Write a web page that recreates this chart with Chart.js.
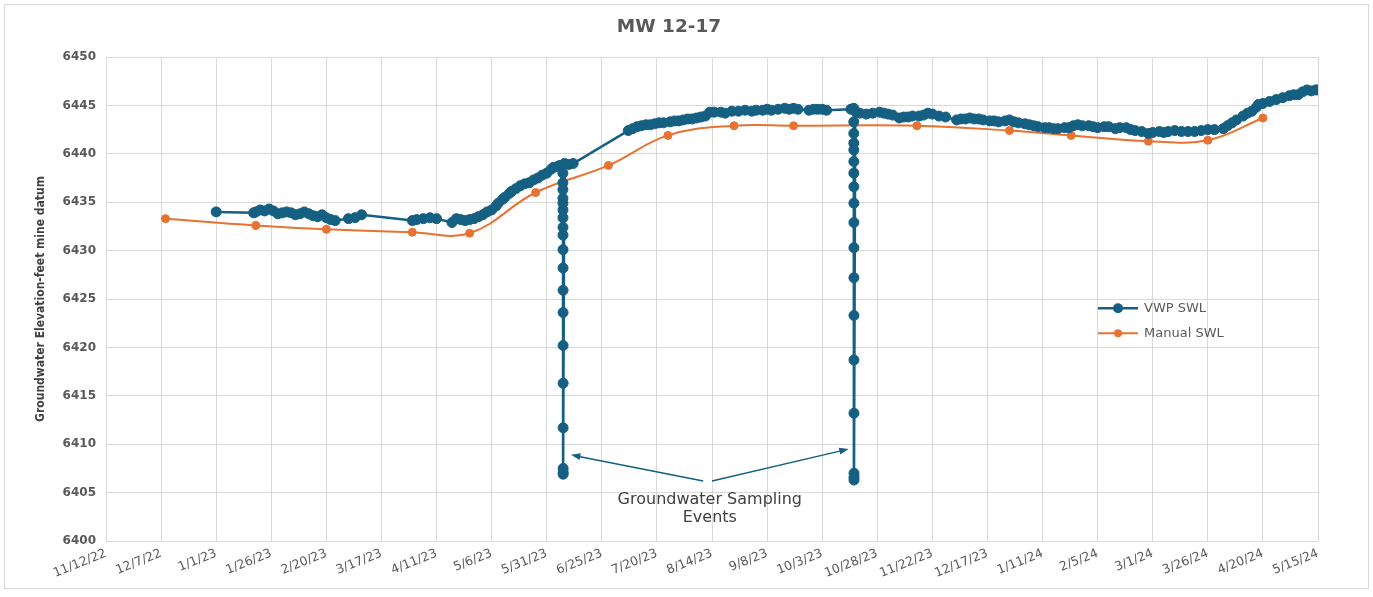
<!DOCTYPE html>
<html>
<head>
<meta charset="utf-8">
<title>MW 12-17</title>
<script src="https://cdn.jsdelivr.net/npm/chart.js@4.4.1/dist/chart.umd.min.js"></script>
<style>
  html, body { margin: 0; padding: 0; background: #fff; }
  #wrap { position: relative; width: 1373px; height: 597px; }
</style>
</head>
<body>
<div id="wrap"><canvas id="chart" width="1373" height="597"></canvas></div>
<script>
// date axis ticks, every 25 days
const xTickLabels = ['11/12/22', '12/7/22', '1/1/23', '1/26/23', '2/20/23', '3/17/23', '4/11/23', '5/6/23',
    '5/31/23', '6/25/23', '7/20/23', '8/14/23', '9/8/23', '10/3/23', '10/28/23', '11/22/23', '12/17/23',
    '1/11/24', '2/5/24', '3/1/24', '3/26/24', '4/20/24', '5/15/24'];
const yMin = 6400;
const yMax = 6450;
const yStep = 5;

// vibrating wire piezometer readings [date, elevation]
const vwpSWL = [
    ['2023-01-01', 6434.0],
    ['2023-01-18', 6433.9], ['2023-01-19', 6434.0], ['2023-01-21', 6434.2], ['2023-01-23', 6434.1],
    ['2023-01-25', 6434.3], ['2023-01-27', 6434.1], ['2023-01-29', 6433.8], ['2023-01-31', 6433.9],
    ['2023-02-02', 6434.0], ['2023-02-04', 6433.9], ['2023-02-06', 6433.7], ['2023-02-08', 6433.8],
    ['2023-02-10', 6434.0], ['2023-02-12', 6433.8], ['2023-02-14', 6433.6], ['2023-02-16', 6433.5],
    ['2023-02-18', 6433.7], ['2023-02-20', 6433.4], ['2023-02-22', 6433.2], ['2023-02-24', 6433.1],
    ['2023-03-02', 6433.3], ['2023-03-05', 6433.4], ['2023-03-08', 6433.7],
    ['2023-03-31', 6433.1], ['2023-04-02', 6433.2], ['2023-04-05', 6433.3], ['2023-04-08', 6433.4],
    ['2023-04-11', 6433.3], ['2023-04-18', 6432.9], ['2023-04-20', 6433.3], ['2023-04-22', 6433.2],
    ['2023-04-24', 6433.1], ['2023-04-26', 6433.2], ['2023-04-28', 6433.3], ['2023-04-30', 6433.5],
    ['2023-05-02', 6433.7], ['2023-05-04', 6434.0], ['2023-05-06', 6434.2], ['2023-05-08', 6434.6],
    ['2023-05-09', 6434.9], ['2023-05-11', 6435.3], ['2023-05-12', 6435.5], ['2023-05-14', 6435.9],
    ['2023-05-15', 6436.1], ['2023-05-17', 6436.4], ['2023-05-19', 6436.7], ['2023-05-21', 6436.9],
    ['2023-05-23', 6437.0], ['2023-05-25', 6437.3], ['2023-05-27', 6437.5], ['2023-05-29', 6437.8],
    ['2023-05-31', 6438.0], ['2023-06-02', 6438.4], ['2023-06-03', 6438.6], ['2023-06-05', 6438.7],
    ['2023-06-06', 6438.8],
    // June sampling event (pumping drawdown)
    ['2023-06-07T08:00', 6438.0], ['2023-06-07T08:10', 6437.0], ['2023-06-07T08:20', 6436.3],
    ['2023-06-07T08:30', 6435.4], ['2023-06-07T08:40', 6434.9], ['2023-06-07T08:50', 6434.2],
    ['2023-06-07T09:00', 6433.4], ['2023-06-07T09:10', 6432.4], ['2023-06-07T09:20', 6431.6],
    ['2023-06-07T09:30', 6430.1], ['2023-06-07T09:40', 6428.2], ['2023-06-07T09:50', 6425.9],
    ['2023-06-07T10:00', 6423.6], ['2023-06-07T10:10', 6420.2], ['2023-06-07T10:20', 6416.3],
    ['2023-06-07T10:30', 6411.7], ['2023-06-07T10:40', 6407.5], ['2023-06-07T10:50', 6407.1],
    ['2023-06-07T11:00', 6406.9],
    ['2023-06-08', 6439.0], ['2023-06-10', 6438.9], ['2023-06-12', 6439.0],
    ['2023-07-07', 6442.4], ['2023-07-09', 6442.6], ['2023-07-11', 6442.8], ['2023-07-13', 6442.9],
    ['2023-07-15', 6443.0], ['2023-07-17', 6443.0], ['2023-07-19', 6443.1], ['2023-07-21', 6443.2],
    ['2023-07-23', 6443.2], ['2023-07-26', 6443.3], ['2023-07-28', 6443.4], ['2023-07-30', 6443.4],
    ['2023-08-01', 6443.5], ['2023-08-03', 6443.6], ['2023-08-05', 6443.6], ['2023-08-07', 6443.7],
    ['2023-08-09', 6443.8], ['2023-08-11', 6443.9], ['2023-08-13', 6444.3], ['2023-08-15', 6444.3],
    ['2023-08-18', 6444.3], ['2023-08-20', 6444.2], ['2023-08-23', 6444.4], ['2023-08-26', 6444.4],
    ['2023-08-29', 6444.5], ['2023-09-01', 6444.4], ['2023-09-03', 6444.5], ['2023-09-06', 6444.5],
    ['2023-09-08', 6444.6], ['2023-09-10', 6444.5], ['2023-09-13', 6444.6], ['2023-09-16', 6444.7],
    ['2023-09-18', 6444.6], ['2023-09-20', 6444.7], ['2023-09-22', 6444.6],
    ['2023-09-27', 6444.5], ['2023-09-29', 6444.6], ['2023-10-01', 6444.6], ['2023-10-03', 6444.6],
    ['2023-10-05', 6444.5],
    ['2023-10-16', 6444.6],
    // October sampling event
    ['2023-10-17T08:00', 6444.7], ['2023-10-17T08:10', 6443.3], ['2023-10-17T08:20', 6442.1],
    ['2023-10-17T08:30', 6441.1], ['2023-10-17T08:40', 6440.4], ['2023-10-17T08:50', 6439.2],
    ['2023-10-17T09:00', 6438.0], ['2023-10-17T09:10', 6436.6], ['2023-10-17T09:20', 6434.9],
    ['2023-10-17T09:30', 6432.9], ['2023-10-17T09:40', 6430.3], ['2023-10-17T09:50', 6427.2],
    ['2023-10-17T10:00', 6423.3], ['2023-10-17T10:10', 6418.7], ['2023-10-17T10:20', 6413.2],
    ['2023-10-17T10:30', 6407.0], ['2023-10-17T10:40', 6406.3], ['2023-10-17T10:50', 6406.6],
    ['2023-10-18', 6444.4], ['2023-10-20', 6444.2], ['2023-10-23', 6444.1], ['2023-10-26', 6444.2],
    ['2023-10-29', 6444.3], ['2023-10-31', 6444.2], ['2023-11-02', 6444.1], ['2023-11-04', 6444.0],
    ['2023-11-07', 6443.7], ['2023-11-09', 6443.8], ['2023-11-11', 6443.8], ['2023-11-13', 6443.9],
    ['2023-11-16', 6443.9], ['2023-11-18', 6444.0], ['2023-11-20', 6444.2], ['2023-11-22', 6444.1],
    ['2023-11-25', 6443.9], ['2023-11-28', 6443.8],
    ['2023-12-03', 6443.5], ['2023-12-05', 6443.6], ['2023-12-07', 6443.6], ['2023-12-09', 6443.7],
    ['2023-12-11', 6443.6], ['2023-12-13', 6443.6], ['2023-12-15', 6443.5], ['2023-12-18', 6443.4],
    ['2023-12-20', 6443.4], ['2023-12-22', 6443.3], ['2023-12-25', 6443.4], ['2023-12-27', 6443.5],
    ['2023-12-29', 6443.3], ['2023-12-31', 6443.2], ['2024-01-03', 6443.1], ['2024-01-05', 6443.0],
    ['2024-01-07', 6442.9], ['2024-01-09', 6442.8], ['2024-01-12', 6442.7], ['2024-01-14', 6442.7],
    ['2024-01-16', 6442.6], ['2024-01-18', 6442.6], ['2024-01-21', 6442.7], ['2024-01-23', 6442.7],
    ['2024-01-25', 6442.9], ['2024-01-27', 6443.0], ['2024-01-29', 6442.9], ['2024-02-01', 6442.9],
    ['2024-02-03', 6442.8], ['2024-02-05', 6442.7], ['2024-02-08', 6442.8], ['2024-02-10', 6442.8],
    ['2024-02-13', 6442.6], ['2024-02-15', 6442.7], ['2024-02-18', 6442.7], ['2024-02-20', 6442.5],
    ['2024-02-22', 6442.4], ['2024-02-25', 6442.3], ['2024-02-28', 6442.1], ['2024-03-01', 6442.2],
    ['2024-03-04', 6442.3], ['2024-03-06', 6442.2], ['2024-03-08', 6442.3], ['2024-03-11', 6442.4],
    ['2024-03-14', 6442.3], ['2024-03-17', 6442.3], ['2024-03-20', 6442.3], ['2024-03-23', 6442.4],
    ['2024-03-26', 6442.5], ['2024-03-29', 6442.5], ['2024-04-02', 6442.6], ['2024-04-04', 6442.9],
    ['2024-04-06', 6443.2], ['2024-04-08', 6443.5], ['2024-04-11', 6443.9], ['2024-04-13', 6444.2],
    ['2024-04-15', 6444.4], ['2024-04-17', 6444.8], ['2024-04-18', 6445.1], ['2024-04-20', 6445.2],
    ['2024-04-23', 6445.4], ['2024-04-26', 6445.6], ['2024-04-29', 6445.8], ['2024-05-02', 6446.0],
    ['2024-05-04', 6446.1], ['2024-05-06', 6446.1], ['2024-05-08', 6446.4], ['2024-05-10', 6446.6],
    ['2024-05-12', 6446.5], ['2024-05-14', 6446.6], ['2024-05-15', 6446.6]
];

// hand-measured water levels [date, elevation]
const manualSWL = [
    ['2022-12-09', 6433.3], ['2023-01-19', 6432.6], ['2023-02-20', 6432.2], ['2023-03-31', 6431.9],
    ['2023-04-26', 6431.8], ['2023-05-26', 6436.0], ['2023-06-28', 6438.8], ['2023-07-25', 6441.9],
    ['2023-08-24', 6442.9], ['2023-09-20', 6442.9], ['2023-11-15', 6442.9], ['2023-12-27', 6442.4],
    ['2024-01-24', 6441.9], ['2024-02-28', 6441.3], ['2024-03-26', 6441.4], ['2024-04-20', 6443.7]
];

// callout for the two sampling events
const noteLines = ['Groundwater Sampling', 'Events'];
const noteAnchor = ['2023-08-13', 6404.25];
const noteArrows = [
    { from: ['2023-08-10', 6406.2], to: ['2023-06-11', 6408.9] },
    { from: ['2023-08-14', 6406.2], to: ['2023-10-15', 6409.5] }
];

const VWP_COLOR = '#156082';
const MANUAL_COLOR = '#E97132';
const TEXT_COLOR = '#595959';
const GRID_COLOR = '#d9d9d9';
const FONT = "'DejaVu Sans', 'Liberation Sans', sans-serif";

function toTime(s) {
    return Date.parse(s.length > 10 ? s + 'Z' : s + 'T00:00Z');
}

function labelToTime(label) {
    const [m, d, y] = label.split('/').map(Number);
    return Date.UTC(2000 + y, m - 1, d);
}

const tickTimes = xTickLabels.map(labelToTime);

// white background + thin outer frame
const chartFrame = {
    id: 'chartFrame',
    beforeDraw(chart) {
        const ctx = chart.ctx;
        ctx.save();
        ctx.fillStyle = '#fff';
        ctx.fillRect(0, 0, chart.width, chart.height);
        ctx.strokeStyle = GRID_COLOR;
        ctx.lineWidth = 1;
        ctx.strokeRect(4.5, 4.5, chart.width - 9, chart.height - 13);
        ctx.restore();
    }
};

// legend sitting inside the plot, right of centre
const insideLegend = {
    id: 'insideLegend',
    afterDatasetsDraw(chart) {
        const { ctx, chartArea } = chart;
        const x0 = chartArea.left + 0.8185 * (chartArea.right - chartArea.left);
        let y = chartArea.top + 0.519 * (chartArea.bottom - chartArea.top);
        ctx.save();
        ctx.font = '13px ' + FONT;
        ctx.textBaseline = 'middle';
        chart.data.datasets.forEach(ds => {
            ctx.strokeStyle = ds.borderColor;
            ctx.lineWidth = ds.borderWidth;
            ctx.beginPath();
            ctx.moveTo(x0, y);
            ctx.lineTo(x0 + 40, y);
            ctx.stroke();
            ctx.fillStyle = ds.borderColor;
            ctx.beginPath();
            ctx.arc(x0 + 20, y, ds.pointRadius, 0, Math.PI * 2);
            ctx.fill();
            ctx.fillStyle = TEXT_COLOR;
            ctx.fillText(ds.label, x0 + 46, y);
            y += 25;
        });
        ctx.restore();
    }
};

function drawArrow(ctx, x1, y1, x2, y2) {
    const ang = Math.atan2(y2 - y1, x2 - x1);
    const head = 10;
    ctx.beginPath();
    ctx.moveTo(x1, y1);
    ctx.lineTo(x2 - Math.cos(ang) * head * 0.8, y2 - Math.sin(ang) * head * 0.8);
    ctx.stroke();
    ctx.beginPath();
    ctx.moveTo(x2, y2);
    ctx.lineTo(x2 - head * Math.cos(ang - 0.35), y2 - head * Math.sin(ang - 0.35));
    ctx.lineTo(x2 - head * Math.cos(ang + 0.35), y2 - head * Math.sin(ang + 0.35));
    ctx.closePath();
    ctx.fill();
}

const samplingNote = {
    id: 'samplingNote',
    afterDatasetsDraw(chart) {
        const { ctx } = chart;
        const xs = chart.scales.x;
        const ys = chart.scales.y;
        ctx.save();
        ctx.strokeStyle = VWP_COLOR;
        ctx.fillStyle = VWP_COLOR;
        ctx.lineWidth = 1.5;
        noteArrows.forEach(a => {
            drawArrow(ctx,
                xs.getPixelForValue(toTime(a.from[0])), ys.getPixelForValue(a.from[1]),
                xs.getPixelForValue(toTime(a.to[0])), ys.getPixelForValue(a.to[1]));
        });
        ctx.fillStyle = '#404040';
        ctx.font = '16px ' + FONT;
        ctx.textAlign = 'center';
        ctx.textBaseline = 'middle';
        const cx = xs.getPixelForValue(toTime(noteAnchor[0]));
        const cy = ys.getPixelForValue(noteAnchor[1]);
        noteLines.forEach((line, i) => ctx.fillText(line, cx, cy + i * 18));
        ctx.restore();
    }
};

const ctx = document.getElementById('chart');

new Chart(ctx, {
    type: 'line',
    data: {
        datasets: [
            {
                label: 'VWP SWL',
                data: vwpSWL.map(([d, v]) => ({ x: toTime(d), y: v })),
                borderColor: VWP_COLOR,
                backgroundColor: VWP_COLOR,
                pointBackgroundColor: VWP_COLOR,
                pointBorderColor: VWP_COLOR,
                borderWidth: 2.5,
                pointRadius: 5,
                pointBorderWidth: 1,
                tension: 0
            },
            {
                label: 'Manual SWL',
                data: manualSWL.map(([d, v]) => ({ x: toTime(d), y: v })),
                borderColor: MANUAL_COLOR,
                backgroundColor: MANUAL_COLOR,
                pointBackgroundColor: MANUAL_COLOR,
                pointBorderColor: MANUAL_COLOR,
                borderWidth: 2,
                pointRadius: 4,
                pointBorderWidth: 1,
                tension: 0.4
            }
        ]
    },
    options: {
        responsive: false,
        animation: false,
        devicePixelRatio: 1,
        layout: { padding: { top: 5, left: 20, right: 55, bottom: 8 } },
        plugins: {
            legend: { display: false },
            tooltip: { enabled: false },
            title: {
                display: true,
                text: 'MW 12-17',
                color: TEXT_COLOR,
                font: { family: FONT, size: 18.5, weight: 'bold' },
                padding: { top: 11, bottom: 18.8 }
            }
        },
        scales: {
            x: {
                type: 'linear',
                min: tickTimes[0],
                max: tickTimes[tickTimes.length - 1],
                afterBuildTicks: scale => { scale.ticks = tickTimes.map(v => ({ value: v })); },
                afterFit: scale => { scale.height = 48; },
                ticks: {
                    autoSkip: false,
                    minRotation: 22,
                    maxRotation: 22,
                    padding: 5,
                    color: TEXT_COLOR,
                    font: { family: FONT, size: 12.5 },
                    callback: (value, i) => xTickLabels[i]
                },
                grid: { color: GRID_COLOR, drawTicks: false },
                border: { display: false }
            },
            y: {
                min: yMin,
                max: yMax,
                afterFit: scale => { scale.width = 86; },
                ticks: {
                    stepSize: yStep,
                    padding: 10,
                    color: TEXT_COLOR,
                    font: { family: FONT, size: 12, weight: 'bold' },
                    callback: value => String(value)
                },
                grid: { color: GRID_COLOR, drawTicks: false },
                border: { display: false },
                title: {
                    display: true,
                    text: 'Groundwater Elevation-feet mine datum',
                    color: '#404040',
                    font: { family: "'DejaVu Sans Condensed', " + FONT, size: 12, weight: 'bold' },
                    padding: { top: 14, bottom: 0 }
                }
            }
        }
    },
    plugins: [chartFrame, insideLegend, samplingNote]
});
</script>
</body>
</html>
